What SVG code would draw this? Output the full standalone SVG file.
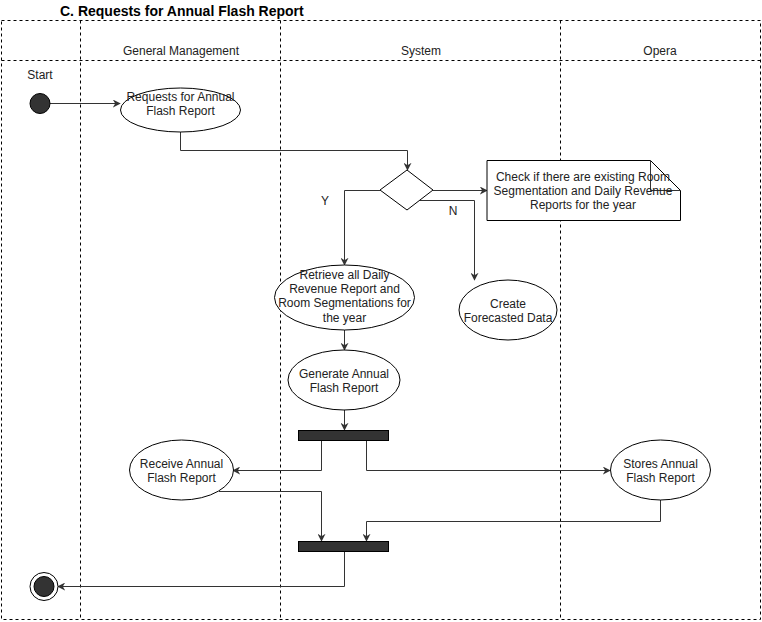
<svg xmlns="http://www.w3.org/2000/svg" width="762" height="622" viewBox="0 0 762 622">
<style>
text{font-family:"Liberation Sans",Arial,sans-serif;font-size:12px;fill:#222;text-anchor:middle}
.title{font-size:14px;font-weight:bold;fill:#000;text-anchor:start}
.lane{fill:none;stroke:#000;stroke-width:1;stroke-dasharray:3 3}
.act{fill:#fff;stroke:#000;stroke-width:1}
.bar{fill:#333;stroke:#000;stroke-width:1}
.con{fill:none;stroke:#333;stroke-width:1}
</style>
<defs>
<marker id="arr" viewBox="0 0 10 10" refX="9" refY="5" markerWidth="8" markerHeight="8" markerUnits="userSpaceOnUse" orient="auto">
<path d="M0,0 L10,5 L0,10 L3,5 Z" fill="#333"/>
</marker>
</defs>
<rect width="762" height="622" fill="#fff"/>
<text class="title" x="60" y="16">C. Requests for Annual Flash Report</text>
<g id="swimlanes">
<rect class="lane" x="1.5" y="20.5" width="759" height="599"/>
<line class="lane" x1="1.5" y1="60.5" x2="760.5" y2="60.5"/>
<line class="lane" x1="80.5" y1="20.5" x2="80.5" y2="619.5"/>
<line class="lane" x1="280.5" y1="20.5" x2="280.5" y2="619.5"/>
<line class="lane" x1="560.5" y1="20.5" x2="560.5" y2="619.5"/>
<text x="181" y="55">General Management</text>
<text x="421" y="55">System</text>
<text x="660" y="55">Opera</text>
</g>
<g id="connectors">
<line class="con" x1="50" y1="103.5" x2="120" y2="103.5" marker-end="url(#arr)"/>
<polyline class="con" points="180.5,132 180.5,150.5 407.5,150.5 407.5,170" marker-end="url(#arr)"/>
<line class="con" x1="433" y1="190.5" x2="487" y2="190.5" marker-end="url(#arr)"/>
<polyline class="con" points="380,190.5 344.5,190.5 344.5,265" marker-end="url(#arr)"/>
<polyline class="con" points="420,200.5 474.5,200.5 474.5,280" marker-end="url(#arr)"/>
<line class="con" x1="344.5" y1="330" x2="344.5" y2="350" marker-end="url(#arr)"/>
<line class="con" x1="344.5" y1="410" x2="344.5" y2="430" marker-end="url(#arr)"/>
<polyline class="con" points="321.5,441 321.5,470.5 233,470.5" marker-end="url(#arr)"/>
<polyline class="con" points="366.5,441 366.5,470.5 610,470.5" marker-end="url(#arr)"/>
<polyline class="con" points="219,491.5 321.5,491.5 321.5,541" marker-end="url(#arr)"/>
<polyline class="con" points="660.5,500 660.5,521.5 366.5,521.5 366.5,541" marker-end="url(#arr)"/>
<polyline class="con" points="344.5,551 344.5,586.5 58,586.5" marker-end="url(#arr)"/>
<text x="325" y="205">Y</text>
<text x="453" y="215">N</text>
</g>
<g id="start">
<text x="40" y="79">Start</text>
<circle cx="40" cy="103.5" r="10" fill="#333" stroke="#000"/>
</g>
<g id="requests">
<ellipse class="act" cx="180.5" cy="110" rx="60" ry="22"/>
<text x="180.5" y="101">Requests for Annual</text>
<text x="180.5" y="115">Flash Report</text>
</g>
<g id="decision">
<polygon class="act" points="407,170 433,190 407,210 380,190"/>
</g>
<g id="note">
<path class="act" d="M487,160.5 H650.5 L680.5,190.5 V220.5 H487 Z"/>
<path class="con" d="M650.5,160.5 V190.5 H680.5" stroke="#000"/>
<text x="583" y="181">Check if there are existing Room</text>
<text x="583" y="195">Segmentation and Daily Revenue</text>
<text x="583" y="209">Reports for the year</text>
</g>
<g id="retrieve">
<ellipse class="act" cx="344.5" cy="297.5" rx="70" ry="32.5"/>
<text x="344.5" y="279">Retrieve all Daily</text>
<text x="344.5" y="293">Revenue Report and</text>
<text x="344.5" y="307">Room Segmentations for</text>
<text x="344.5" y="322">the year</text>
</g>
<g id="forecast">
<ellipse class="act" cx="508" cy="310" rx="49" ry="30"/>
<text x="508" y="308">Create</text>
<text x="508" y="322">Forecasted Data</text>
</g>
<g id="generate">
<ellipse class="act" cx="344" cy="380" rx="56" ry="30"/>
<text x="344" y="378">Generate Annual</text>
<text x="344" y="392">Flash Report</text>
</g>
<g id="fork">
<rect class="bar" x="298.5" y="430.5" width="90" height="10"/>
</g>
<g id="receive">
<ellipse class="act" cx="181.5" cy="470" rx="52" ry="30"/>
<text x="181.5" y="468">Receive Annual</text>
<text x="181.5" y="482">Flash Report</text>
</g>
<g id="stores">
<ellipse class="act" cx="660.5" cy="470" rx="50" ry="30"/>
<text x="660.5" y="468">Stores Annual</text>
<text x="660.5" y="482">Flash Report</text>
</g>
<g id="join">
<rect class="bar" x="298.5" y="541.5" width="90" height="10"/>
</g>
<g id="end">
<circle cx="44" cy="586.5" r="14" fill="#fff" stroke="#000"/>
<circle cx="44" cy="586.5" r="10" fill="#333" stroke="#000"/>
</g>
</svg>
